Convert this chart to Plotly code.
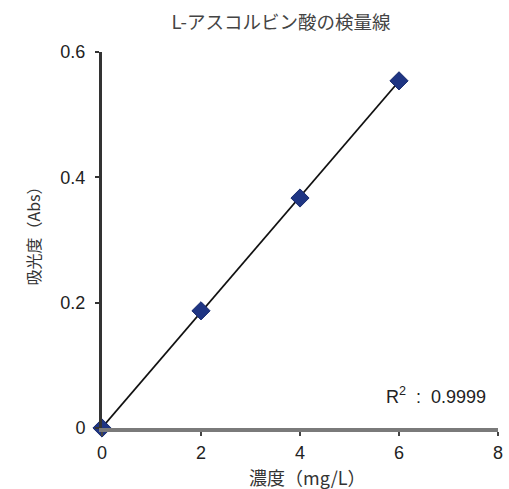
import numpy as np
import plotly.graph_objects as go

# Calibration standards for L-ascorbic acid
concentration = [0, 2, 4, 6]          # mg/L
absorbance = [0.0, 0.187, 0.367, 0.554]  # Abs
x_ticks = [0, 2, 4, 6, 8]
y_ticks = [0, 0.2, 0.4, 0.6]
r_squared = "0.9999"

FONT = "Liberation Sans, Arial, Noto Sans CJK JP, sans-serif"
JP_FONT = "Noto Sans CJK JP, Liberation Sans, sans-serif"

# Linear calibration line through the standards
slope, intercept = np.polyfit(concentration, absorbance, 1)
fit_x = np.array([min(concentration), max(concentration)])
fit_y = slope * fit_x + intercept

fig = go.Figure()
fig.add_trace(go.Scatter(
    x=fit_x, y=fit_y, mode="lines",
    line=dict(color="#111111", width=1.8),
    hoverinfo="skip", cliponaxis=False,
))
fig.add_trace(go.Scatter(
    x=concentration, y=absorbance, mode="markers",
    marker=dict(symbol="diamond", size=14, color="#1f3583",
                line=dict(color="#172a6e", width=1)),
    cliponaxis=False,
))

# Coefficient of determination label
fig.add_annotation(
    x=7.8, y=0.052, xref="x", yref="y", xanchor="right", yanchor="middle",
    text=f"R<sup>2</sup>  :  {r_squared}", showarrow=False,
    font=dict(family=FONT, size=18, color="#222222"),
)

# Axis titles
fig.add_annotation(
    x=0.52, y=-0.131, xref="paper", yref="paper",
    xanchor="center", yanchor="middle", showarrow=False,
    text="濃度（mg/L）",
    font=dict(family=JP_FONT, size=18, color="#333333"),
)
fig.add_annotation(
    x=-0.174, y=0.52, xref="paper", yref="paper",
    xanchor="center", yanchor="middle", showarrow=False, textangle=-90,
    text="吸光度（Abs）",
    font=dict(family=JP_FONT, size=16, color="#333333"),
)

fig.update_layout(
    width=509, height=489,
    margin=dict(l=102, r=11, t=52, b=61),
    paper_bgcolor="white", plot_bgcolor="white",
    showlegend=False,
    title=dict(text="L-アスコルビン酸の検量線", x=0.552, xanchor="center",
               y=0.953, yanchor="middle",
               font=dict(family=JP_FONT, size=18.5, color="#444444")),
    xaxis=dict(
        range=[0, 8], tickvals=x_ticks, ticktext=[str(v) for v in x_ticks],
        automargin=False,
        showgrid=False, zeroline=False, showline=True,
        linecolor="#7a7a7a", linewidth=4,
        ticks="outside", ticklen=4, tickwidth=2, tickcolor="#444444",
        ticklabelstandoff=1,
        tickfont=dict(family=FONT, size=18, color="#222222"),
    ),
    yaxis=dict(
        range=[0, 0.6], tickvals=y_ticks, ticktext=["0", "0.2", "0.4", "0.6"],
        automargin=False,
        showgrid=False, zeroline=False, showline=True,
        linecolor="#333333", linewidth=3,
        ticks="outside", ticklen=4, tickwidth=2, tickcolor="#333333",
        ticklabelstandoff=6,
        tickfont=dict(family=FONT, size=18, color="#222222"),
    ),
)

fig.write_html("out.html")
